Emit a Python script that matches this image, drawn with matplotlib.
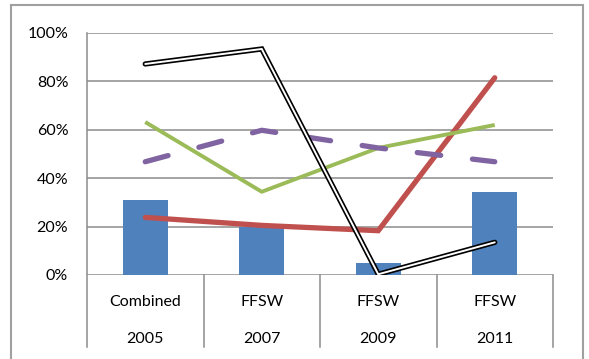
import matplotlib
matplotlib.use("Agg")
import matplotlib.pyplot as plt
from matplotlib.patches import Rectangle
from matplotlib.lines import Line2D
import matplotlib.transforms as mtransforms

plt.rcParams['font.family'] = ['Lato', 'DejaVu Sans']
plt.rcParams['lines.scale_dashes'] = False

row1 = ["Combined", "FFSW", "FFSW", "FFSW"]
row2 = ["2005", "2007", "2009", "2011"]
bars = [31, 20, 4.8, 34.4]
red = [23.8, 20.5, 18.3, 81.5]
green = [63.2, 34.4, 52.5, 62.0]
purple = [46.8, 59.8, 52.5, 46.8]
black = [87.2, 93.4, 0.3, 13.5]
yticks = [0, 20, 40, 60, 80, 100]

W, H = 589, 359
FS = 11.5
fig = plt.figure(figsize=(W/100, H/100), dpi=100)
fig.patch.set_facecolor('white')
fig.patches.append(Rectangle((11/W, -0.1), (583-11)/W, 1.1 - 5/H, transform=fig.transFigure,
                             fill=False, edgecolor='#a0a0a0', linewidth=1.5))

ax = fig.add_axes([87/W, 1-275/H, (553-87)/W, (275-33)/H])
x = list(range(len(row1)))
ax.set_xlim(-0.5, len(row1)-0.5)
ax.set_ylim(0, 100)

for t in yticks:
    ax.axhline(t, color='#8c8c8c', linewidth=1.1, zorder=0)

ax.bar(x, bars, width=0.39, color='#4f81bd', zorder=2)
ax.plot(x, red, color='#c0504d', linewidth=3.8, solid_capstyle='round', solid_joinstyle='miter', zorder=3)
ax.plot(x, green, color='#9bbb59', linewidth=2.8, solid_capstyle='butt', zorder=3)
ax.plot(x, purple, color='#8064a2', linewidth=3.8, dash_capstyle='round',
        dashes=(17, 23), zorder=3)
ax.plot(x, black, color='black', linewidth=3.8, solid_capstyle='round', solid_joinstyle='miter', zorder=4)
ax.plot(x, black, color='white', linewidth=1.4, solid_capstyle='round', solid_joinstyle='miter', zorder=5)

for s in ['top', 'right', 'bottom', 'left']:
    ax.spines[s].set_visible(False)
ax.set_yticks(yticks)
ax.set_yticklabels([f"{t}%" for t in yticks], fontsize=FS)
ax.tick_params(axis='y', length=0, pad=13.5)
ax.set_xticks([])

trans = mtransforms.blended_transform_factory(ax.transData, ax.transAxes)
ybot = (275-347)/242
for b in [-0.5, 0.5, 1.5, 2.5, 3.5]:
    top = 1.0 if b == -0.5 else 0.0
    ax.add_line(Line2D([b, b], [ybot, top], transform=trans, color='#8c8c8c',
                       linewidth=1.1, clip_on=False))
for i in x:
    ax.text(i, (275-302)/242, row1[i], transform=trans, ha='center', va='center', fontsize=FS)
    ax.text(i, (275-339)/242, row2[i], transform=trans, ha='center', va='center', fontsize=FS)

fig.savefig("out.png", dpi=100)
